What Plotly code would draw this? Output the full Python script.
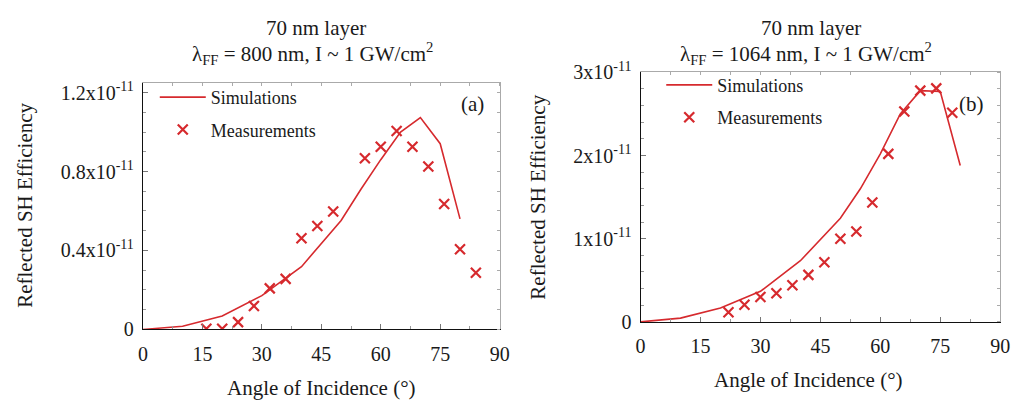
import numpy as np
import plotly.graph_objects as go

# ---------------- data (efficiency in units of 1e-11) ----------------
sim_angle_a = [0, 10, 20, 30, 40, 50, 55, 60, 65, 70, 75, 80]
sim_eff_a = [0.0, 0.016, 0.068, 0.171, 0.318, 0.552, 0.71, 0.86, 1.0, 1.073, 0.941, 0.56]
meas_angle_a = [16, 20, 24, 28, 32, 36, 40, 44, 48, 56, 60, 64, 68, 72, 76, 80, 84]
meas_eff_a = [0.003, 0.003, 0.037, 0.119, 0.208, 0.256, 0.462, 0.524, 0.597, 0.867,
              0.925, 1.005, 0.925, 0.825, 0.635, 0.406, 0.287]

sim_angle_b = [0, 10, 20, 30, 40, 50, 55, 60, 65, 70, 75, 80]
sim_eff_b = [0.0, 0.045, 0.167, 0.367, 0.735, 1.246, 1.6, 2.02, 2.5, 2.78, 2.77, 1.88]
meas_angle_b = [22, 26, 30, 34, 38, 42, 46, 50, 54, 58, 62, 66, 70, 74, 78]
meas_eff_b = [0.117, 0.205, 0.30, 0.345, 0.44, 0.565, 0.716, 1.0, 1.087, 1.435,
              2.02, 2.53, 2.78, 2.807, 2.515]

scale = 1e-11
x_ticks = [0, 15, 30, 45, 60, 75, 90]
y_ticks_a = [0, 0.4, 0.8, 1.2]
y_ticktext_a = ["0", "0.4x10<sup>-11</sup>", "0.8x10<sup>-11</sup>", "1.2x10<sup>-11</sup>"]
y_ticks_b = [0, 1, 2, 3]
y_ticktext_b = ["0", "1x10<sup>-11</sup>", "2x10<sup>-11</sup>", "3x10<sup>-11</sup>"]

titles = [("70 nm layer", "λ<sub>FF</sub> = 800 nm, I ~ 1 GW/cm<sup>2</sup>"),
          ("70 nm layer", "λ<sub>FF</sub> = 1064 nm, I ~ 1 GW/cm<sup>2</sup>")]
x_title = "Angle of Incidence (°)"
y_title = "Reflected SH Efficiency"
panel_labels = ["(a)", "(b)"]

# ---------------- style ----------------
W, H = 1024, 412
RED = "#d62a2e"
FONT = "Liberation Serif"
TXT = "#1a1a1a"

def px(x):
    return x / W

def py(y):
    return 1 - y / H

fig = go.Figure()

marker_style = dict(symbol="x-thin", size=10, color=RED, line=dict(color=RED, width=2.2))
fig.add_trace(go.Scatter(x=sim_angle_a, y=np.array(sim_eff_a) * scale, mode="lines",
                         line=dict(color=RED, width=1.6), name="Simulations",
                         xaxis="x", yaxis="y", legend="legend", legendgroup="a1"))
fig.add_trace(go.Scatter(x=meas_angle_a, y=np.array(meas_eff_a) * scale, mode="markers",
                         marker=marker_style, name="Measurements", xaxis="x", yaxis="y",
                         legend="legend", legendgroup="a2"))
fig.add_trace(go.Scatter(x=sim_angle_b, y=np.array(sim_eff_b) * scale, mode="lines",
                         line=dict(color=RED, width=1.6), name="Simulations",
                         xaxis="x2", yaxis="y2", legend="legend2", legendgroup="b1"))
fig.add_trace(go.Scatter(x=meas_angle_b, y=np.array(meas_eff_b) * scale, mode="markers",
                         marker=marker_style, name="Measurements", xaxis="x2", yaxis="y2",
                         legend="legend2", legendgroup="b2"))

tickfont = dict(family=FONT, size=20, color=TXT)

def xaxis(domain, anchor):
    return dict(domain=domain, anchor=anchor, range=[0, 90], tickvals=x_ticks,
                ticks="inside", ticklen=5, tickcolor="#777", showline=True,
                linecolor="#111", linewidth=1.2, showgrid=False, zeroline=False,
                tickfont=tickfont, fixedrange=True, ticklabelstandoff=6,
                minor=dict(dtick=7.5, ticks="inside", ticklen=3, tickcolor="#999"))

def yaxis(domain, anchor, rng, tv, tt, mdt):
    return dict(domain=domain, anchor=anchor, range=rng, tickvals=[v * scale for v in tv],
                ticktext=tt, ticks="inside", ticklen=5, tickcolor="#777", showline=True,
                linecolor="#111", linewidth=1.2, showgrid=False, zeroline=False,
                tickfont=tickfont, fixedrange=True, ticklabelstandoff=4,
                minor=dict(tickvals=[k * mdt * scale for k in range(0, 40)],
                           ticks="inside", ticklen=3, tickcolor="#999"))

def mirror_x(over, anchor):
    return dict(overlaying=over, anchor=anchor, side="top", range=[0, 90], showline=True,
                linecolor="#aaa", linewidth=1, showticklabels=False, ticks="",
                showgrid=False, zeroline=False, fixedrange=True,
                minor=dict(dtick=7.5, ticks="inside", ticklen=3, tickcolor="#aaa"))

def mirror_y(over, anchor, top, mdt, n):
    return dict(overlaying=over, anchor=anchor, side="right", range=[0, top * scale],
                showline=True, linecolor="#aaa", linewidth=1, showticklabels=False,
                ticks="", showgrid=False, zeroline=False, fixedrange=True,
                minor=dict(tickvals=[k * mdt * scale for k in range(0, n)],
                           ticks="inside", ticklen=3, tickcolor="#aaa"))

xa_dom = [px(140), px(502)]
ya_dom = [py(336), py(74)]
xb_dom = [px(645), px(1010)]
yb_dom = [py(328), py(63)]

legend_font = dict(family=FONT, size=18, color=TXT)
layout = dict(
    width=W, height=H, margin=dict(l=0, r=0, t=0, b=0),
    paper_bgcolor="white", plot_bgcolor="white",
    font=dict(family=FONT, color=TXT),
    xaxis=xaxis(xa_dom, "y"),
    yaxis=yaxis(ya_dom, "x", [0, 1.25 * scale], y_ticks_a, y_ticktext_a, 0.1),
    xaxis2=xaxis(xb_dom, "y2"),
    yaxis2=yaxis(yb_dom, "x2", [0, 3.0 * scale], y_ticks_b, y_ticktext_b, 0.2),
    xaxis3=mirror_x("x", "y"),
    yaxis3=mirror_y("y", "x", 1.25, 0.1, 13),
    xaxis4=mirror_x("x2", "y2"),
    yaxis4=mirror_y("y2", "x2", 3.0, 0.2, 16),
    legend=dict(x=px(152), y=py(70), xanchor="left", yanchor="top",
                bgcolor="rgba(0,0,0,0)", font=legend_font, traceorder="grouped",
                tracegroupgap=6, itemwidth=46),
    legend2=dict(x=px(666), y=py(57), xanchor="left", yanchor="top",
                 bgcolor="rgba(0,0,0,0)", font=legend_font, traceorder="grouped",
                 tracegroupgap=6, itemwidth=46),
    showlegend=True,
)
fig.update_layout(**layout)

# placeholder traces so the mirrored frame axes are drawn
fig.add_trace(go.Scatter(x=[None], y=[None], xaxis="x3", yaxis="y3", showlegend=False,
                         hoverinfo="skip"))
fig.add_trace(go.Scatter(x=[None], y=[None], xaxis="x4", yaxis="y4", showlegend=False,
                         hoverinfo="skip"))

ann = []
big = dict(family=FONT, size=21, color=TXT)
title_pos = [(316, 312), (818, 813)]
for (l1, l2), (cx1, cx2) in zip(titles, title_pos):
    ann.append(dict(text=l1, x=px(cx1), y=py(16), xref="paper", yref="paper",
                    showarrow=False, font=big, xanchor="center", yanchor="middle"))
    ann.append(dict(text=l2, x=px(cx2), y=py(43), xref="paper", yref="paper",
                    showarrow=False, font=big, xanchor="center", yanchor="middle"))
for cx, cy in [(321, 398), (815, 390)]:
    ann.append(dict(text=x_title, x=px(cx), y=py(cy), xref="paper", yref="paper",
                    showarrow=False, font=big, xanchor="center", yanchor="middle"))
for cx, cy in [(20, 204), (540, 196)]:
    ann.append(dict(text=y_title, x=px(cx), y=py(cy), xref="paper", yref="paper",
                    showarrow=False, textangle=-90, font=big,
                    xanchor="center", yanchor="middle"))
for lab, cx, cy in [(panel_labels[0], 474, 97), (panel_labels[1], 981, 97)]:
    ann.append(dict(text=lab, x=px(cx), y=py(cy), xref="paper", yref="paper",
                    showarrow=False, font=big, xanchor="center", yanchor="middle"))
fig.update_layout(annotations=ann)

fig.write_html("out.html")
